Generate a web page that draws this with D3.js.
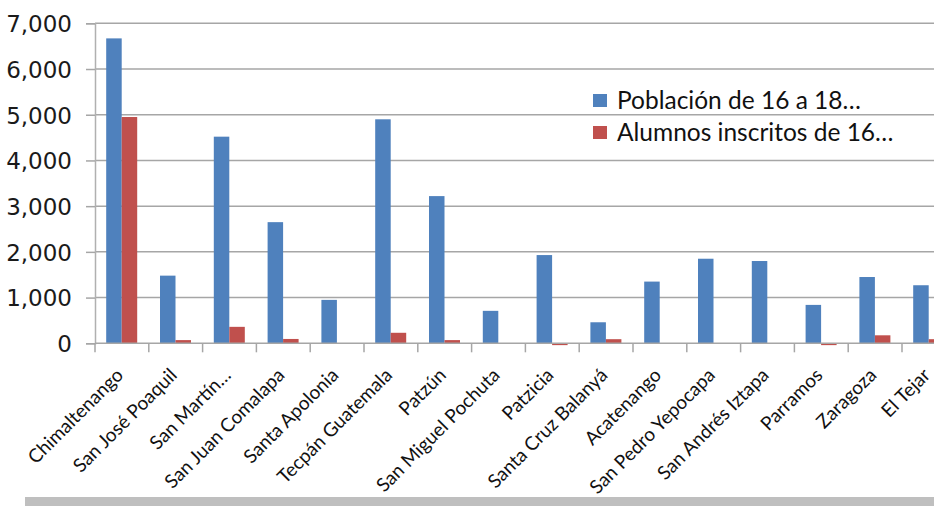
<!DOCTYPE html>
<html>
<head>
<meta charset="utf-8">
<script src="https://cdn.jsdelivr.net/npm/d3@7"></script>
<style>
  body { margin: 0; background: #fff; }
  svg { display: block; }
</style>
</head>
<body>
<div id="chart"></div>
<script>

var categories = ["Chimaltenango", "San José Poaquil", "San Martín…", "San Juan Comalapa",
    "Santa Apolonia", "Tecpán Guatemala", "Patzún", "San Miguel Pochuta", "Patzicia",
    "Santa Cruz Balanyá", "Acatenango", "San Pedro Yepocapa", "San Andrés Iztapa",
    "Parramos", "Zaragoza", "El Tejar"];

var poblacion = [6670, 1480, 4520, 2650, 950, 4900, 3220, 710, 1930, 460, 1350, 1850, 1800, 840, 1450, 1270];
var inscritos = [4950, 70, 360, 95, 0, 230, 70, 0, -40, 90, 0, 0, 0, -40, 175, 90];

var seriesNames = ["Población de 16 a 18…", "Alumnos inscritos de 16…"];
var seriesColors = ["#4f81bd", "#c0504d"];
var yTicks = [0, 1000, 2000, 3000, 4000, 5000, 6000, 7000];

var width = 934,
    height = 506,
    left = 95,
    step = 53.8,
    zeroY = 343.3,
    topY = 23.3;

var formatNumber = d3.format(",");

var svg = d3.select("#chart").append("svg")
    .attr("width", width)
    .attr("height", height);

var x0 = d3.scaleBand()
    .domain(categories)
    .range([left, left + step * categories.length]);

var x1 = d3.scaleBand()
    .domain(d3.range(seriesNames.length))
    .range([11.2, 42.2]);

var y = d3.scaleLinear()
    .domain([0, 7000])
    .range([zeroY, topY]);

// gridlines
svg.append("g")
    .selectAll("line")
    .data(yTicks.slice(1))
    .enter().append("line")
    .attr("x1", left)
    .attr("x2", width)
    .attr("y1", function(d) { return y(d); })
    .attr("y2", function(d) { return y(d); })
    .style("stroke", "#a6a6a6")
    .style("stroke-width", "1.5px");

// y axis
var yAxis = svg.append("g")
    .attr("transform", "translate(" + left + ",0)")
    .call(d3.axisLeft(y).tickValues(yTicks).tickSize(9).tickPadding(14).tickFormat(formatNumber));

yAxis.select(".domain").style("stroke", "#b0b0b0").style("stroke-width", "1.5px");
yAxis.selectAll(".tick line").style("stroke", "#a6a6a6").style("stroke-width", "1.5px");
yAxis.selectAll(".tick text")
    .style("font-family", "'DejaVu Sans', sans-serif")
    .style("font-size", "23px")
    .style("fill", "#1a1a1a")
    .attr("dy", ".36em");

// bars
var rows = categories.map(function(c, i) { return {cat: c, values: [poblacion[i], inscritos[i]]}; });

var group = svg.selectAll(".cat")
    .data(rows)
    .enter().append("g")
    .attr("class", "cat")
    .attr("transform", function(d) { return "translate(" + x0(d.cat) + ",0)"; });

group.selectAll("rect")
    .data(function(d) { return d.values; })
    .enter().append("rect")
    .attr("x", function(d, i) { return x1(i); })
    .attr("width", x1.bandwidth())
    .attr("y", function(d) { return y(Math.max(0, d)); })
    .attr("height", function(d) { return Math.abs(y(d) - y(0)); })
    .style("fill", function(d, i) { return seriesColors[i]; });

// x axis
var xAxis = svg.append("g").attr("class", "x-axis");

xAxis.append("line")
    .attr("x1", left)
    .attr("x2", width)
    .attr("y1", zeroY)
    .attr("y2", zeroY)
    .style("stroke", "#a6a6a6")
    .style("stroke-width", "1.5px");

xAxis.selectAll(".xtick")
    .data(categories)
    .enter().append("line")
    .attr("class", "xtick")
    .attr("x1", function(d) { return x0(d); })
    .attr("x2", function(d) { return x0(d); })
    .attr("y1", zeroY)
    .attr("y2", zeroY + 9)
    .style("stroke", "#a6a6a6")
    .style("stroke-width", "1.5px");

xAxis.selectAll(".xlabel")
    .data(categories)
    .enter().append("text")
    .attr("class", "xlabel")
    .attr("transform", function(d) {
        return "translate(" + (x0(d) + x0.bandwidth() / 2 + 2.5) + "," + (zeroY + 33) + ") rotate(-45)";
    })
    .attr("text-anchor", "end")
    .style("font-family", "Lato, sans-serif")
    .style("font-size", "19px")
    .style("fill", "#111")
    .text(function(d) { return d; });

// legend
var legend = svg.append("g")
    .attr("transform", "translate(593,94)");

var item = legend.selectAll(".item")
    .data(seriesNames)
    .enter().append("g")
    .attr("class", "item")
    .attr("transform", function(d, i) { return "translate(0," + (i * 32) + ")"; });

item.append("rect")
    .attr("width", 14)
    .attr("height", 13)
    .style("fill", function(d, i) { return seriesColors[i]; });

item.append("text")
    .attr("x", 24)
    .attr("y", 15)
    .style("font-family", "Lato, sans-serif")
    .style("font-size", "24.5px")
    .style("fill", "#111")
    .text(function(d) { return d; });

// grey strip along the bottom
svg.append("rect")
    .attr("x", 25)
    .attr("y", 497)
    .attr("width", width - 25)
    .attr("height", 9)
    .style("fill", "#bfbfbf");

</script>
</body>
</html>
